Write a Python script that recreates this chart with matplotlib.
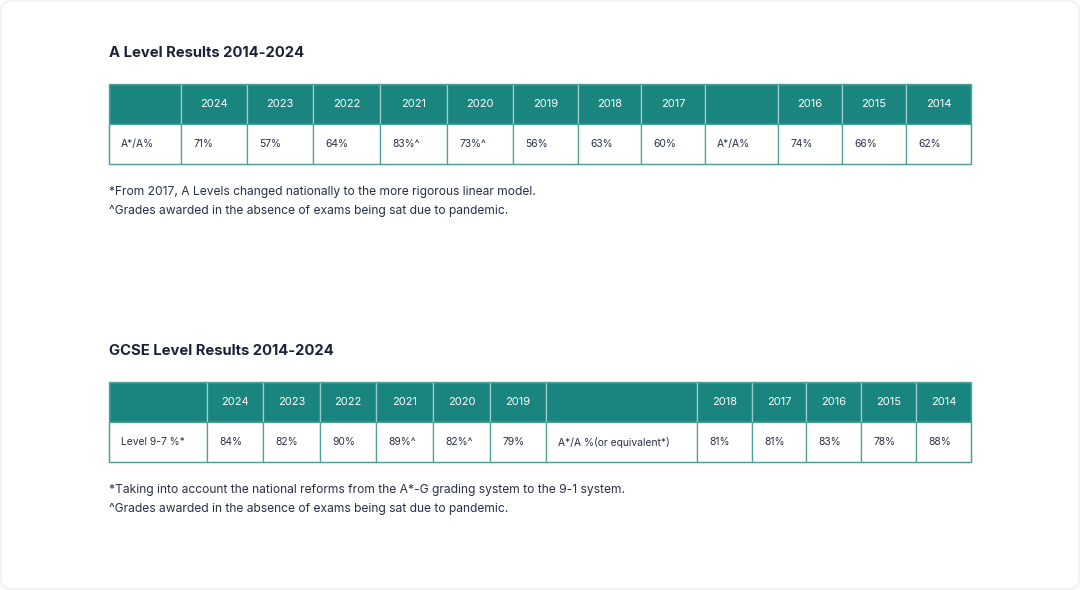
import matplotlib.pyplot as plt
from matplotlib.patches import Rectangle, FancyBboxPatch

plt.rcParams['font.family'] = ['Inter', 'DejaVu Sans']

# A Level data
a_title = "A Level Results 2014-2024"
a_header = ["", "2024", "2023", "2022", "2021", "2020", "2019", "2018", "2017", "", "2016", "2015", "2014"]
a_row = ["A*/A%", "71%", "57%", "64%", "83%^", "73%^", "56%", "63%", "60%", "A*/A%", "74%", "66%", "62%"]
a_widths = [72, 66, 66, 67, 67, 66, 65, 63, 64, 73, 64, 64, 65]
a_notes = ["*From 2017, A Levels changed nationally to the more rigorous linear model.",
           "^Grades awarded in the absence of exams being sat due to pandemic."]

# GCSE data
g_title = "GCSE Level Results 2014-2024"
g_header = ["", "2024", "2023", "2022", "2021", "2020", "2019", "", "2018", "2017", "2016", "2015", "2014"]
g_row = ["Level 9-7 %*", "84%", "82%", "90%", "89%^", "82%^", "79%", "A*/A %(or equivalent*)",
         "81%", "81%", "83%", "78%", "88%"]
g_widths = [98, 56, 57, 56, 57, 57, 56, 151, 55, 54, 55, 55, 55]
g_notes = ["*Taking into account the national reforms from the A*-G grading system to the 9-1 system.",
           "^Grades awarded in the absence of exams being sat due to pandemic."]

TEAL = "#1a857e"
HEAD_LINE = "#9ccfca"
BODY_LINE = "#4f9f99"
TEXT = "#2a3045"
TITLE = "#1b2236"

fig = plt.figure(figsize=(10.8, 5.9), dpi=100)
ax = fig.add_axes([0, 0, 1, 1])
ax.set_xlim(0, 1080)
ax.set_ylim(590, 0)
ax.axis('off')

ax.add_patch(FancyBboxPatch((1, 1), 1078, 588, boxstyle="round,pad=0,rounding_size=10",
                            fc="white", ec="#eeeeee", lw=1))


def draw_table(title, header, row, widths, notes, top):
    x0 = 109
    ax.text(x0, top - 31, title, fontsize=10.7, fontweight='bold', color=TITLE, va='center')
    h = 40
    x = x0
    for i, w in enumerate(widths):
        ax.add_patch(Rectangle((x, top), w, h, fc=TEAL, ec=HEAD_LINE, lw=0.9))
        ax.add_patch(Rectangle((x, top + h), w, h, fc="white", ec=BODY_LINE, lw=0.9))
        if header[i]:
            ax.text(x + w / 2, top + h / 2, header[i], fontsize=8, color="white",
                    ha='center', va='center')
        ax.text(x + 12, top + h * 1.5, row[i], fontsize=7.4, color=TEXT, ha='left', va='center')
        x += w
    total = sum(widths)
    ax.add_patch(Rectangle((x0, top), total, 2 * h, fc="none", ec=BODY_LINE, lw=0.9))
    for k, n in enumerate(notes):
        ax.text(x0, top + 2 * h + 28 + k * 19, n, fontsize=8.7, color=TEXT, va='center')


draw_table(a_title, a_header, a_row, a_widths, a_notes, 84)
draw_table(g_title, g_header, g_row, g_widths, g_notes, 382)

fig.savefig("out.png", dpi=100)
